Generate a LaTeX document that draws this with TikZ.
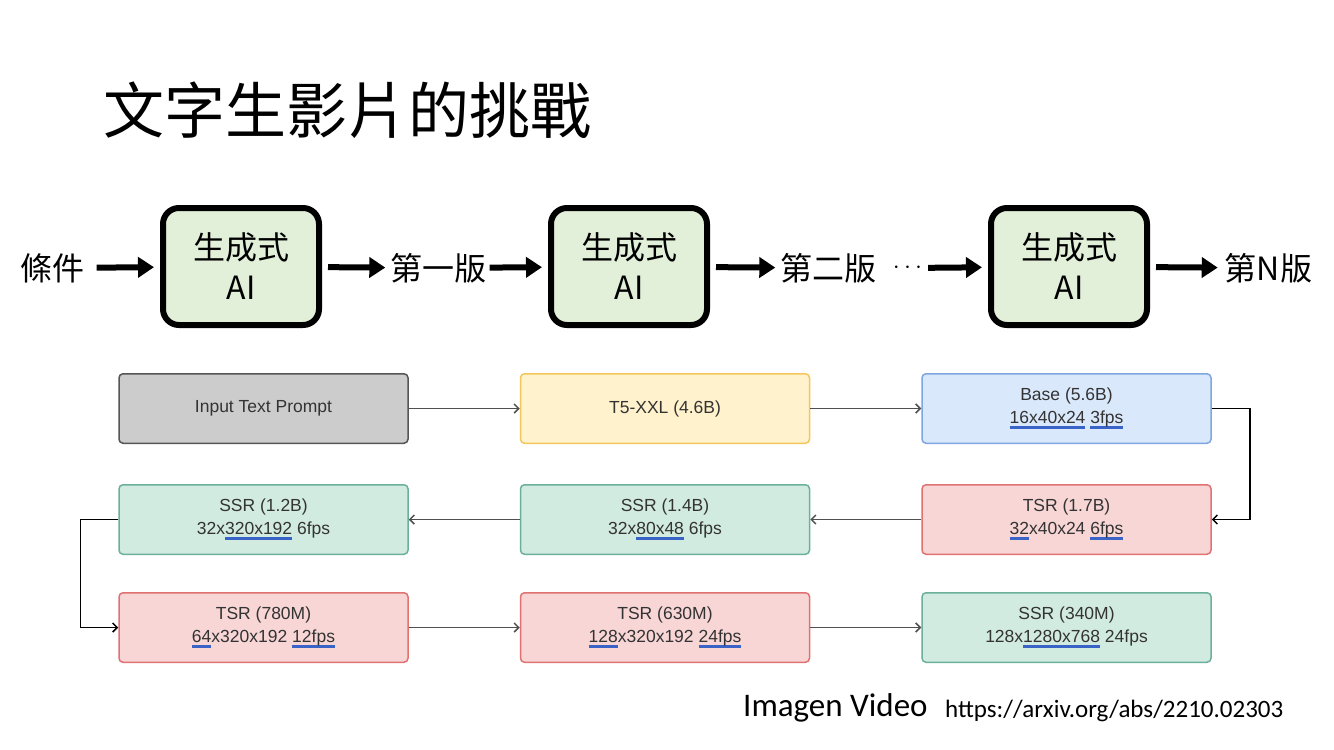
\documentclass[tikz,border=0pt]{standalone}
\usepackage{fontspec}
\setmainfont{Liberation Sans}
\newfontfamily\cjkfont{Noto Sans CJK TC}
\newfontfamily\calfont{Carlito}
\usetikzlibrary{arrows.meta}
\definecolor{aigreen}{HTML}{E2F0D9}
\definecolor{promptfill}{HTML}{CCCCCC}
\definecolor{promptline}{HTML}{555555}
\definecolor{tfivefill}{HTML}{FFF2CC}
\definecolor{tfiveline}{HTML}{F3C75B}
\definecolor{basefill}{HTML}{DAE8FC}
\definecolor{baseline}{HTML}{7EA6E0}
\definecolor{tsrfill}{HTML}{F8D6D6}
\definecolor{tsrline}{HTML}{E07272}
\definecolor{ssrfill}{HTML}{D2EBE1}
\definecolor{ssrline}{HTML}{6CB09B}
\definecolor{txtgray}{HTML}{333333}
\definecolor{conngray}{HTML}{505050}
\definecolor{ulblue}{HTML}{3A63C8}
\newcommand{\bigarrow}{Triangle[length=16pt,width=20pt]}
\newcommand{\smallarrow}{Straight Barb[length=4.5pt,width=9pt]}
\newsavebox\ulbox
\newcommand\blueul[1]{\sbox\ulbox{#1}\rlap{\color{ulblue}\rule[-5.5pt]{\wd\ulbox}{3.5pt}}\usebox\ulbox}

\begin{document}
\begin{tikzpicture}[x=1pt,y=-1pt,
  gen/.style={draw=black, line width=6pt, fill=aigreen, rounded corners=16pt,
    minimum width=156pt, minimum height=117pt, align=center,
    font=\cjkfont\fontsize{32}{40}\selectfont},
  lbl/.style={inner sep=0pt, font=\cjkfont\fontsize{32}{40}\selectfont},
  fatarrow/.style={-\bigarrow, line width=6pt, shorten <=6pt, shorten >=6pt},
  blk/.style={rounded corners=4pt, line width=1.5pt, minimum width=289pt,
    minimum height=69.5pt, align=center, text=txtgray,
    font=\fontsize{17.5}{23}\selectfont},
  conn/.style={-\smallarrow, line width=1.5pt, draw=conngray}]
  % General frame is (0,0) to (1334,750), y downwards
  \useasboundingbox[fill=white] (0,0) rectangle (1334,750);

  % title
  \node[anchor=west, inner sep=0pt, font=\cjkfont\fontsize{61}{70}\selectfont]
    (title) at (103,110) {文字生影片的挑戰};

  % iterative generation
  \node[lbl] (cond) at (52.5,268) {條件};
  \node[gen] (gen1) at (241,266.5) {生成式\\AI};
  \node[lbl] (ver1) at (438.5,268) {第一版};
  \node[gen] (gen2) at (629,266.5) {生成式\\AI};
  \node[lbl] (ver2) at (828.5,268) {第二版};
  \node[lbl, font=\fontsize{40}{48}\selectfont] (dots) at (907.5,268) {$\cdots$};
  \node[gen] (gen3) at (1069,266.5) {生成式\\AI};
  \node[lbl] (verN) at (1268.5,268) {第N版};

  \draw[fatarrow, shorten <=12pt] (cond) -- (gen1);
  \draw[fatarrow, shorten >=5pt] (gen1) -- (ver1);
  \draw[fatarrow, shorten <=3pt] (ver1) -- (gen2);
  \draw[fatarrow, shorten >=5pt] (gen2) -- (ver2);
  \draw[fatarrow, shorten <=6pt] (dots) -- (gen3);
  \draw[fatarrow, shorten >=7pt] (gen3) -- (verN);

  % Imagen Video cascade
  \node[blk, draw=promptline, fill=promptfill] (prompt) at (263.5,408.5) {Input Text Prompt};
  \node[blk, draw=tfiveline, fill=tfivefill] (t5) at (665,408.5) {T5-XXL (4.6B)};
  \node[blk, draw=baseline, fill=basefill] (base) at (1066.5,408.5)
    {Base (5.6B)\\\blueul{16x40x24} \blueul{3fps}};

  \node[blk, draw=ssrline, fill=ssrfill] (ssr12) at (263.5,519.5)
    {SSR (1.2B)\\32x\blueul{320x192} 6fps};
  \node[blk, draw=ssrline, fill=ssrfill] (ssr14) at (665,519.5)
    {SSR (1.4B)\\32x\blueul{80x48} 6fps};
  \node[blk, draw=tsrline, fill=tsrfill] (tsr17) at (1066.5,519.5)
    {TSR (1.7B)\\\blueul{32}x40x24 \blueul{6fps}};

  \node[blk, draw=tsrline, fill=tsrfill] (tsr780) at (263.5,627.5)
    {TSR (780M)\\\blueul{64}x320x192 \blueul{12fps}};
  \node[blk, draw=tsrline, fill=tsrfill] (tsr630) at (665,627.5)
    {TSR (630M)\\\blueul{128}x320x192 \blueul{24fps}};
  \node[blk, draw=ssrline, fill=ssrfill] (ssr340) at (1066.5,627.5)
    {SSR (340M)\\128x\blueul{1280x768} 24fps};

  \draw[conn] (prompt) -- (t5);
  \draw[conn] (t5) -- (base);
  \draw[conn, draw=black] (base.east) -- ++(38,0) |- (tsr17.east);
  \draw[conn] (tsr17) -- (ssr14);
  \draw[conn] (ssr14) -- (ssr12);
  \draw[conn, draw=black] (ssr12.west) -- ++(-38,0) |- (tsr780.west);
  \draw[conn] (tsr780) -- (tsr630);
  \draw[conn] (tsr630) -- (ssr340);

  % reference
  \node[anchor=base west, inner sep=0pt, font=\calfont\fontsize{33}{38}\selectfont]
    (imagen) at (743,716) {Imagen Video};
  \node[anchor=base west, inner sep=0pt, font=\calfont\fontsize{25}{30}\selectfont]
    (url) at (945,717) {https://arxiv.org/abs/2210.02303};
\end{tikzpicture}
\end{document}
